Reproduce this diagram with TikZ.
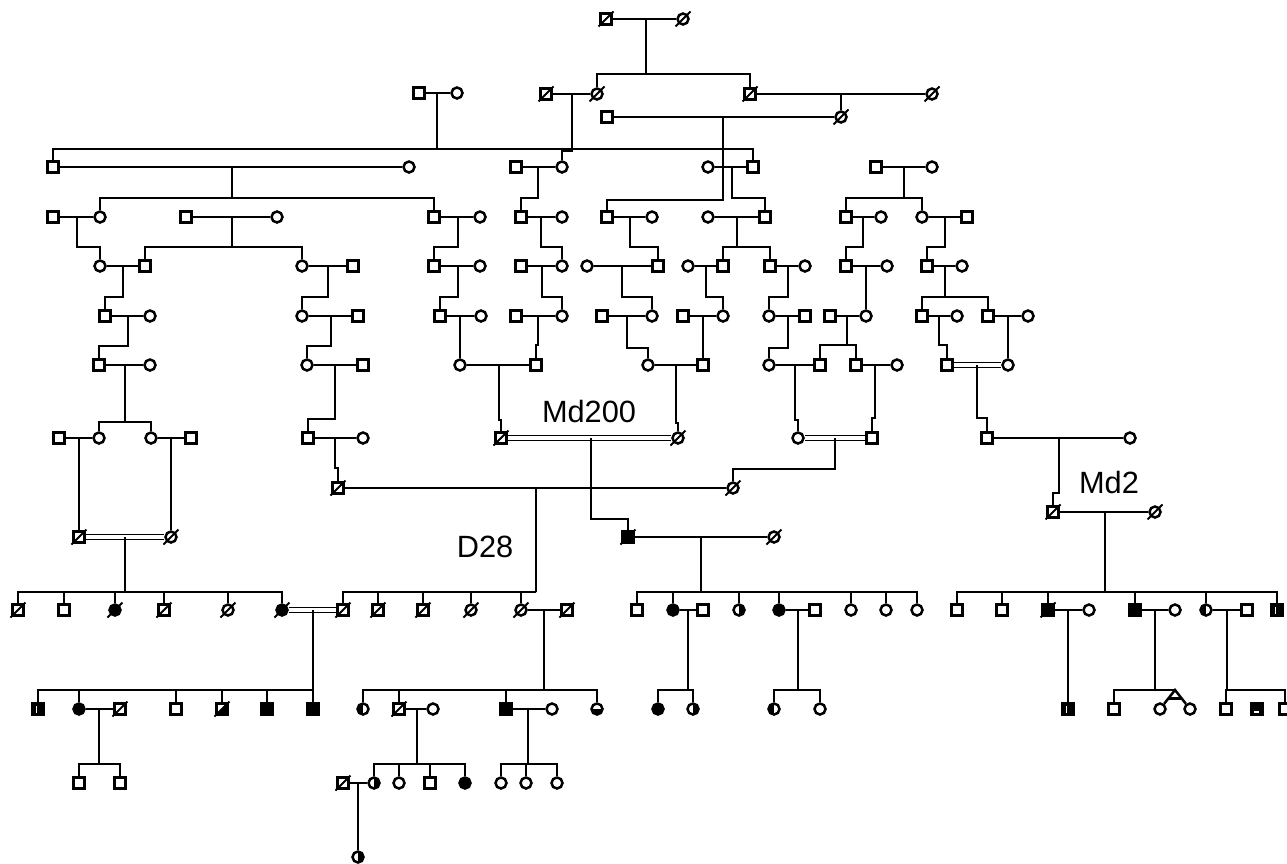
\documentclass[tikz,border=0pt]{standalone}
\usepackage{fontspec}
\setmainfont{Liberation Sans}
\usetikzlibrary{calc}

\begin{document}
\begin{tikzpicture}[
        x=0.02cm, y=-0.02cm,
        line width=0.05cm,
        male/.style={rectangle, draw=black, fill=white, minimum size=0.22cm, inner sep=0pt},
        female/.style={circle, draw=black, fill=white, minimum size=0.22cm, inner sep=0pt},
        plain/.style={},
        aff/.style={fill=black},
        halfL/.style={path picture={\fill[black] (path picture bounding box.south west) rectangle (path picture bounding box.north);}},
        halfR/.style={path picture={\fill[black] (path picture bounding box.south) rectangle (path picture bounding box.north east);}},
        halfB/.style={path picture={\fill[black] (path picture bounding box.south west) rectangle (path picture bounding box.east);}},
        trisq/.style={path picture={\fill[black] (path picture bounding box.south west) -- (path picture bounding box.south east) -- (path picture bounding box.north east) -- cycle;}},
        slitsq/.style={fill=black, path picture={\fill[white] ([xshift=-0.05cm, yshift=-0.07cm]path picture bounding box.center) rectangle ([xshift=-0.015cm, yshift=0.06cm]path picture bounding box.center);}},
        dashsq/.style={fill=black, path picture={\fill[white] ([xshift=-0.06cm, yshift=-0.08cm]path picture bounding box.center) rectangle ([xshift=0.04cm, yshift=-0.045cm]path picture bounding box.center);}},
        dbl/.style={double, line width=0.032cm, double distance=0.07cm},
        slash/.style={line width=0.04cm},
        lbl/.style={font=\fontsize{17.5}{21}\selectfont, inner sep=0pt}
    ]
        \useasboundingbox (0,0) rectangle (1287,863);

        \foreach \nm/\ty/\st/\x/\y in {
            a1/male/plain/606/19, a2/female/plain/683/19,
            b1/male/plain/419/93, b2/female/plain/457/93, b3/male/plain/546/94, b4/female/plain/597/94,
            b5/male/plain/750/94, b6/female/plain/932/94, b7/male/plain/607/117, b8/female/plain/841/117,
            c1/male/plain/53/167, c2/female/plain/409/167, c3/male/plain/516/167, c4/female/plain/562/167,
            c5/female/plain/708/167, c6/male/plain/753/167, c7/male/plain/876/167, c8/female/plain/932/167,
            d1/male/plain/53/217, d2/female/plain/100/217, d3/male/plain/186/217, d4/female/plain/277/217,
            d5/male/plain/434/217, d6/female/plain/480/217, d7/male/plain/521/217, d8/female/plain/562/217,
            d9/male/plain/607/217, d10/female/plain/652/217, d11/female/plain/708/217, d12/male/plain/765/217,
            d13/male/plain/846/217, d14/female/plain/881/217, d15/female/plain/922/217, d16/male/plain/967/217,
            e1/female/plain/100/266, e2/male/plain/145/266, e3/female/plain/302/266, e4/male/plain/353/266,
            e5/male/plain/434/266, e6/female/plain/480/266, e7/male/plain/521/266, e8/female/plain/562/266,
            e9/female/plain/587/266, e10/male/plain/658/266, e11/female/plain/688/266, e12/male/plain/723/266,
            e13/male/plain/770/266, e14/female/plain/805/266, e15/male/plain/846/266, e16/female/plain/887/266,
            e17/male/plain/927/266, e18/female/plain/962/266,
            f1/male/plain/105/316, f2/female/plain/150/316, f3/female/plain/302/316, f4/male/plain/358/316,
            f5/male/plain/440/316, f6/female/plain/481/316, f7/male/plain/516/316, f8/female/plain/562/316,
            f9/male/plain/602/316, f10/female/plain/652/316, f11/male/plain/683/316, f12/female/plain/723/316,
            f13/female/plain/769/316, f14/male/plain/805/316, f15/male/plain/830/316, f16/female/plain/866/316,
            f17/male/plain/922/316, f18/female/plain/957/316, f19/male/plain/988/316, f20/female/plain/1028/316,
            g1/male/plain/99/365, g2/female/plain/150/365, g3/female/plain/307/365, g4/male/plain/363/365,
            g5/female/plain/460/365, g6/male/plain/536/365, g7/female/plain/648/365, g8/male/plain/703/365,
            g9/female/plain/769/365, g10/male/plain/820/365, g11/male/plain/856/365, g12/female/plain/897/365,
            g13/male/plain/947/365, g14/female/plain/1008/365,
            h1/male/plain/59/438, h2/female/plain/99/438, h3/female/plain/151/438, h4/male/plain/191/438,
            h5/male/plain/308/438, h6/female/plain/363/438, h7/male/plain/501/438, h8/female/plain/678/438,
            h9/female/plain/798/438, h10/male/plain/872/438, h11/male/plain/987/438, h12/female/plain/1130/438,
            i1/male/plain/79/537, i2/female/plain/171/537, i3/male/plain/338/488, i4/female/plain/733/488,
            i5/male/aff/628/537, i6/female/plain/774/537, i7/male/plain/1053/512, i8/female/plain/1155/512,
            j1/male/plain/18/610, j2/male/plain/64/610, j3/female/aff/115/610, j4/male/plain/164/610,
            j5/female/plain/228/610, j6/female/aff/282/610, j7/male/plain/343/610, j8/male/plain/378/610,
            j9/male/plain/423/610, j10/female/plain/471/610, j11/female/plain/521/610, j12/male/plain/567/610,
            k1/male/plain/637/610, k2/female/aff/673/610, k3/male/plain/703/610, k4/female/halfR/739/610,
            k5/female/aff/779/610, k6/male/plain/815/610, k7/female/plain/851/610, k8/female/plain/886/610,
            k9/female/plain/917/610,
            l1/male/plain/957/610, l2/male/plain/1002/610, l3/male/aff/1048/610, l4/female/plain/1089/610,
            l5/male/aff/1135/610, l6/female/plain/1175/610, l7/female/halfL/1206/610, l8/male/plain/1247/610,
            l9/male/slitsq/1277/610,
            m1/male/slitsq/38/709, m2/female/aff/79/709, m3/male/plain/120/709, m4/male/plain/176/709,
            m5/male/trisq/222/709, m6/male/aff/267/709, m7/male/aff/313/709,
            n1/female/halfL/363/709, n2/male/plain/399/709, n3/female/plain/433/709, n4/male/aff/506/709,
            n5/female/plain/552/709, n6/female/halfB/597/709,
            o1/female/aff/658/709, o2/female/halfR/693/709, o3/female/halfL/774/709, o4/female/plain/820/709,
            p1/male/slitsq/1068/709, p2/male/plain/1114/709, p3/female/plain/1160/709, p4/female/plain/1190/709,
            p5/male/plain/1226/709, p6/male/dashsq/1257/709, p7/male/plain/1285/709,
            q1/male/plain/79/783, q2/male/plain/120/783, r1/male/plain/343/783, r2/female/halfR/374/783,
            r3/female/plain/399/783, r4/male/plain/430/783, r5/female/aff/465/783, r6/female/plain/501/783,
            r7/female/plain/526/783, r8/female/plain/557/783,
            s1/female/halfR/358/857}
            \node[\ty, \st] (\nm) at (\x,\y) {};

        \foreach \nm/\x/\y in {
            u0/646/19, u1/437/93, u2/572/94, u3/841/94, u4/723/117, u5/232/167, u6/538/167, u7/732/167,
            u8/904/167, u9/77/217, u10/232/217, u11/458/217, u12/541/217, u13/630/217, u14/737/217,
            u15/863/217, u16/945/217, u17/123/266, u18/328/266, u19/458/266, u20/542/266, u21/622/266,
            u22/706/266, u23/788/266, u24/866/266, u25/945/266, u26/128/316, u27/331/316, u28/460/316,
            u29/538/316, u30/627/316, u31/703/316, u32/788/316, u33/847/316, u34/939/316, u35/1008/316,
            u36/125/365, u37/335/365, u38/499/365, u39/676/365, u40/795/365, u41/875/365, u42/977/365,
            u43/79/438, u44/171/438, u45/335/438, u46/591/438, u47/835/438, u48/1059/438, u49/536/488,
            u50/125/537, u51/701/537, u52/1105/512, u53/313/610, u54/544/610, u55/688/610, u56/798/610,
            u57/1068/610, u58/1155/610, u59/1227/610, u60/99/709, u61/417/709, u62/528/709, u63/358/783}
            \coordinate (\nm) at (\x,\y);
        \coordinate (tw) at (1175,690);

        \foreach \a/\b in {a1/a2, b1/b2, b3/b4, b5/b6, b7/b8, c1/c2, c3/c4, c5/c6, c7/c8,
            d1/d2, d3/d4, d5/d6, d7/d8, d9/d10, d11/d12, d13/d14, d15/d16,
            e1/e2, e3/e4, e5/e6, e7/e8, e9/e10, e11/e12, e13/e14, e15/e16, e17/e18,
            f1/f2, f3/f4, f5/f6, f7/f8, f9/f10, f11/f12, f13/f14, f15/f16, f17/f18, f19/f20,
            g1/g2, g3/g4, g5/g6, g7/g8, g9/g10, g11/g12, h1/h2, h3/h4, h5/h6, h11/h12,
            i3/i4, i5/i6, i7/i8, j11/j12, k2/k3, k5/k6, l3/l4, l5/l6, l7/l8, m2/m3, n2/n3, n4/n5, r1/r2}
            \draw (\a) -- (\b);
        \foreach \a/\b in {g13/g14, h7/h8, h9/h10, i1/i2, j6/j7}
            \draw[dbl] (\a) -- (\b);

        \foreach \up/\ch in {u3/b8, u24/f16, u28/g5, u31/g8, u35/g14, u43/i1, u44/i2, u57/p1, u63/s1}
            \draw (\up) -- (\ch);
        \foreach \up/\dy/\ch in {u2/57/c4, u4/83/d9, u6/31/d7, u7/31/d12, u9/30/e1, u11/30/e5, u12/30/e8,
            u13/30/e10, u15/30/e15, u16/30/e17, u17/31/f1, u18/31/f3, u19/31/f5, u20/31/f8, u21/31/f10,
            u22/31/f12, u23/31/f13, u26/30/g1, u27/30/g3, u29/29/g6, u30/32/g7, u32/32/g9, u34/29/g13,
            u37/54/h5, u38/55/h7, u39/58/h8, u40/55/h9, u41/53/h10, u42/53/h11, u45/30/i3, u46/81/i5,
            u47/31/i4, u48/55/i7}
            \draw (\up) -- ++(0,\dy) -| (\ch);
        \foreach \up/\dy/\fc/\lc in {u0/55/b4/b5, u1/56/c1/c6, u5/31/d2/d5, u8/31/d13/d15, u10/30/e2/e3,
            u14/30/e12/e13, u25/31/f17/f19, u33/29/g10/g11, u36/57/h2/h3, u49/104/j7/j11, u50/55/j1/j6,
            u51/55/k1/k9, u52/80/l1/l9, u53/80/m1/m7, u54/80/n1/n6, u55/80/o1/o2, u56/80/o3/o4,
            u59/80/p5/p7, u60/55/q1/q2, u61/55/r2/r5, u62/55/r6/r8} {
            \draw (\up) -- ++(0,\dy) coordinate (s\up);
            \draw (\fc) |- (s\up) -| (\lc);
        }
        \foreach \ch/\up in {j2/u50, j3/u50, j4/u50, j5/u50, j8/u49, j9/u49, j10/u49, k2/u51, k4/u51,
            k5/u51, k7/u51, k8/u51, l2/u52, l3/u52, l5/u52, l7/u52, m2/u53, m4/u53, m5/u53, m6/u53,
            n2/u54, n4/u54, r3/u61, r4/u61, r7/u62}
            \draw (\ch) -- (\ch |- s\up);

        \draw (u58) -- (u58 |- tw);
        \draw (p2) |- (tw);
        \draw (p3) -- (tw) -- (p4);
        \draw ($(tw)!0.45!(p3)$) -- ($(tw)!0.45!(p4)$);

        \foreach \nm in {a1, a2, b3, b4, b5, b6, b8, h7, h8, i1, i2, i3, i4, i5, i6, i7, i8, j1, j3, j4,
            j5, j6, j7, j8, j9, j10, j11, j12, m3, m5, n2, r1, l3}
            \draw[slash] ([shift={(-7.5,7.5)}]\nm.center) -- ([shift={(7.5,-7.5)}]\nm.center);

        \node[lbl] (md200) at (589,411) {Md200};
        \node[lbl] (d28) at (485,547) {D28};
        \node[lbl] (md2) at (1109,482) {Md2};
    \end{tikzpicture}
\end{document}
